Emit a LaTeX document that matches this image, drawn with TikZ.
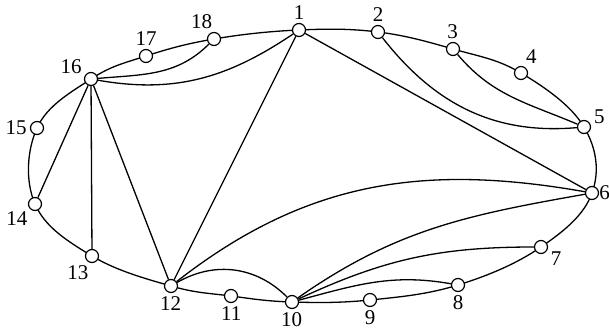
\documentclass[tikz,border=0pt]{standalone}
\usepackage{fontspec}
\setmainfont{Liberation Serif}
\pgfdeclarelayer{bg}
\pgfsetlayers{bg,main}
\begin{document}
\begin{tikzpicture}[x=1pt,y=1pt,
  vtx/.style={circle,draw,fill=white,line width=1.2pt,minimum size=13pt,inner sep=0pt},
  edge/.style={line width=1.3pt},
  lbl/.style={font=\fontsize{21}{21}\selectfont,inner sep=1pt},
  every label/.style={lbl},
  label distance=2pt]
\useasboundingbox (0,0) rectangle (609,335);
\node[vtx,label={90:1}]   (n1)  at (299,305) {};
\node[vtx,label={90:2}]   (n2)  at (378,303) {};
\node[vtx,label={92:3}]   (n3)  at (453,286) {};
\node[vtx,label={65:4}]   (n4)  at (521,262) {};
\node[vtx,label={15:5}]   (n5)  at (584,208) {};
\node[vtx,label={[inner sep=0pt,label distance=0pt]0:6}] (n6) at (592,142) {};
\node[vtx,label={-20:7}]  (n7)  at (541,88)  {};
\node[vtx,label={-90:8}]  (n8)  at (458,50)  {};
\node[vtx,label={-90:9}]  (n9)  at (370,35)  {};
\node[vtx,label={-92:10}] (n10) at (292,33)  {};
\node[vtx,label={-88:11}] (n11) at (231,39)  {};
\node[vtx,label={-92:12}] (n12) at (171,49)  {};
\node[vtx,label={-105:13}](n13) at (92,79)   {};
\node[vtx,label={-135:14}](n14) at (35,131)  {};
\node[vtx,label={180:15}] (n15) at (37,207)  {};
\node[vtx,label={155:16}] (n16) at (91,256)  {};
\node[vtx,label={90:17}]  (n17) at (146,279) {};
\node[vtx,label={95:18}]  (n18) at (214,296) {};
\begin{pgfonlayer}{bg}
\draw[edge] plot[smooth cycle,tension=0.65] coordinates
  {(n1) (n2) (n3) (n4) (n5) (n6) (n7) (n8) (n9) (n10) (n11) (n12) (n13) (n14) (n15) (n16) (n17) (n18)};
\draw[edge] (n16) to[out=5,in=225] (n18);
\draw[edge] (n16) to[out=-10,in=214] (n1);
\draw[edge] (n1) -- (n12);
\draw[edge] (n1) -- (n6);
\draw[edge] (n16) -- (n14);
\draw[edge] (n16) -- (n13);
\draw[edge] (n16) -- (n12);
\draw[edge] (n2) to[out=-52,in=185] (n5);
\draw[edge] (n3) to[out=-50,in=157] (n5);
\draw[edge] (n12) to[out=30,in=135] (n10);
\draw[edge] (n12) to[out=38,in=170] (n6);
\draw[edge] (n10) to[out=35,in=190] (n6);
\draw[edge] (n10) to[out=25,in=180] (n7);
\draw[edge] (n10) to[out=15,in=170] (n8);
\end{pgfonlayer}
\end{tikzpicture}
\end{document}
